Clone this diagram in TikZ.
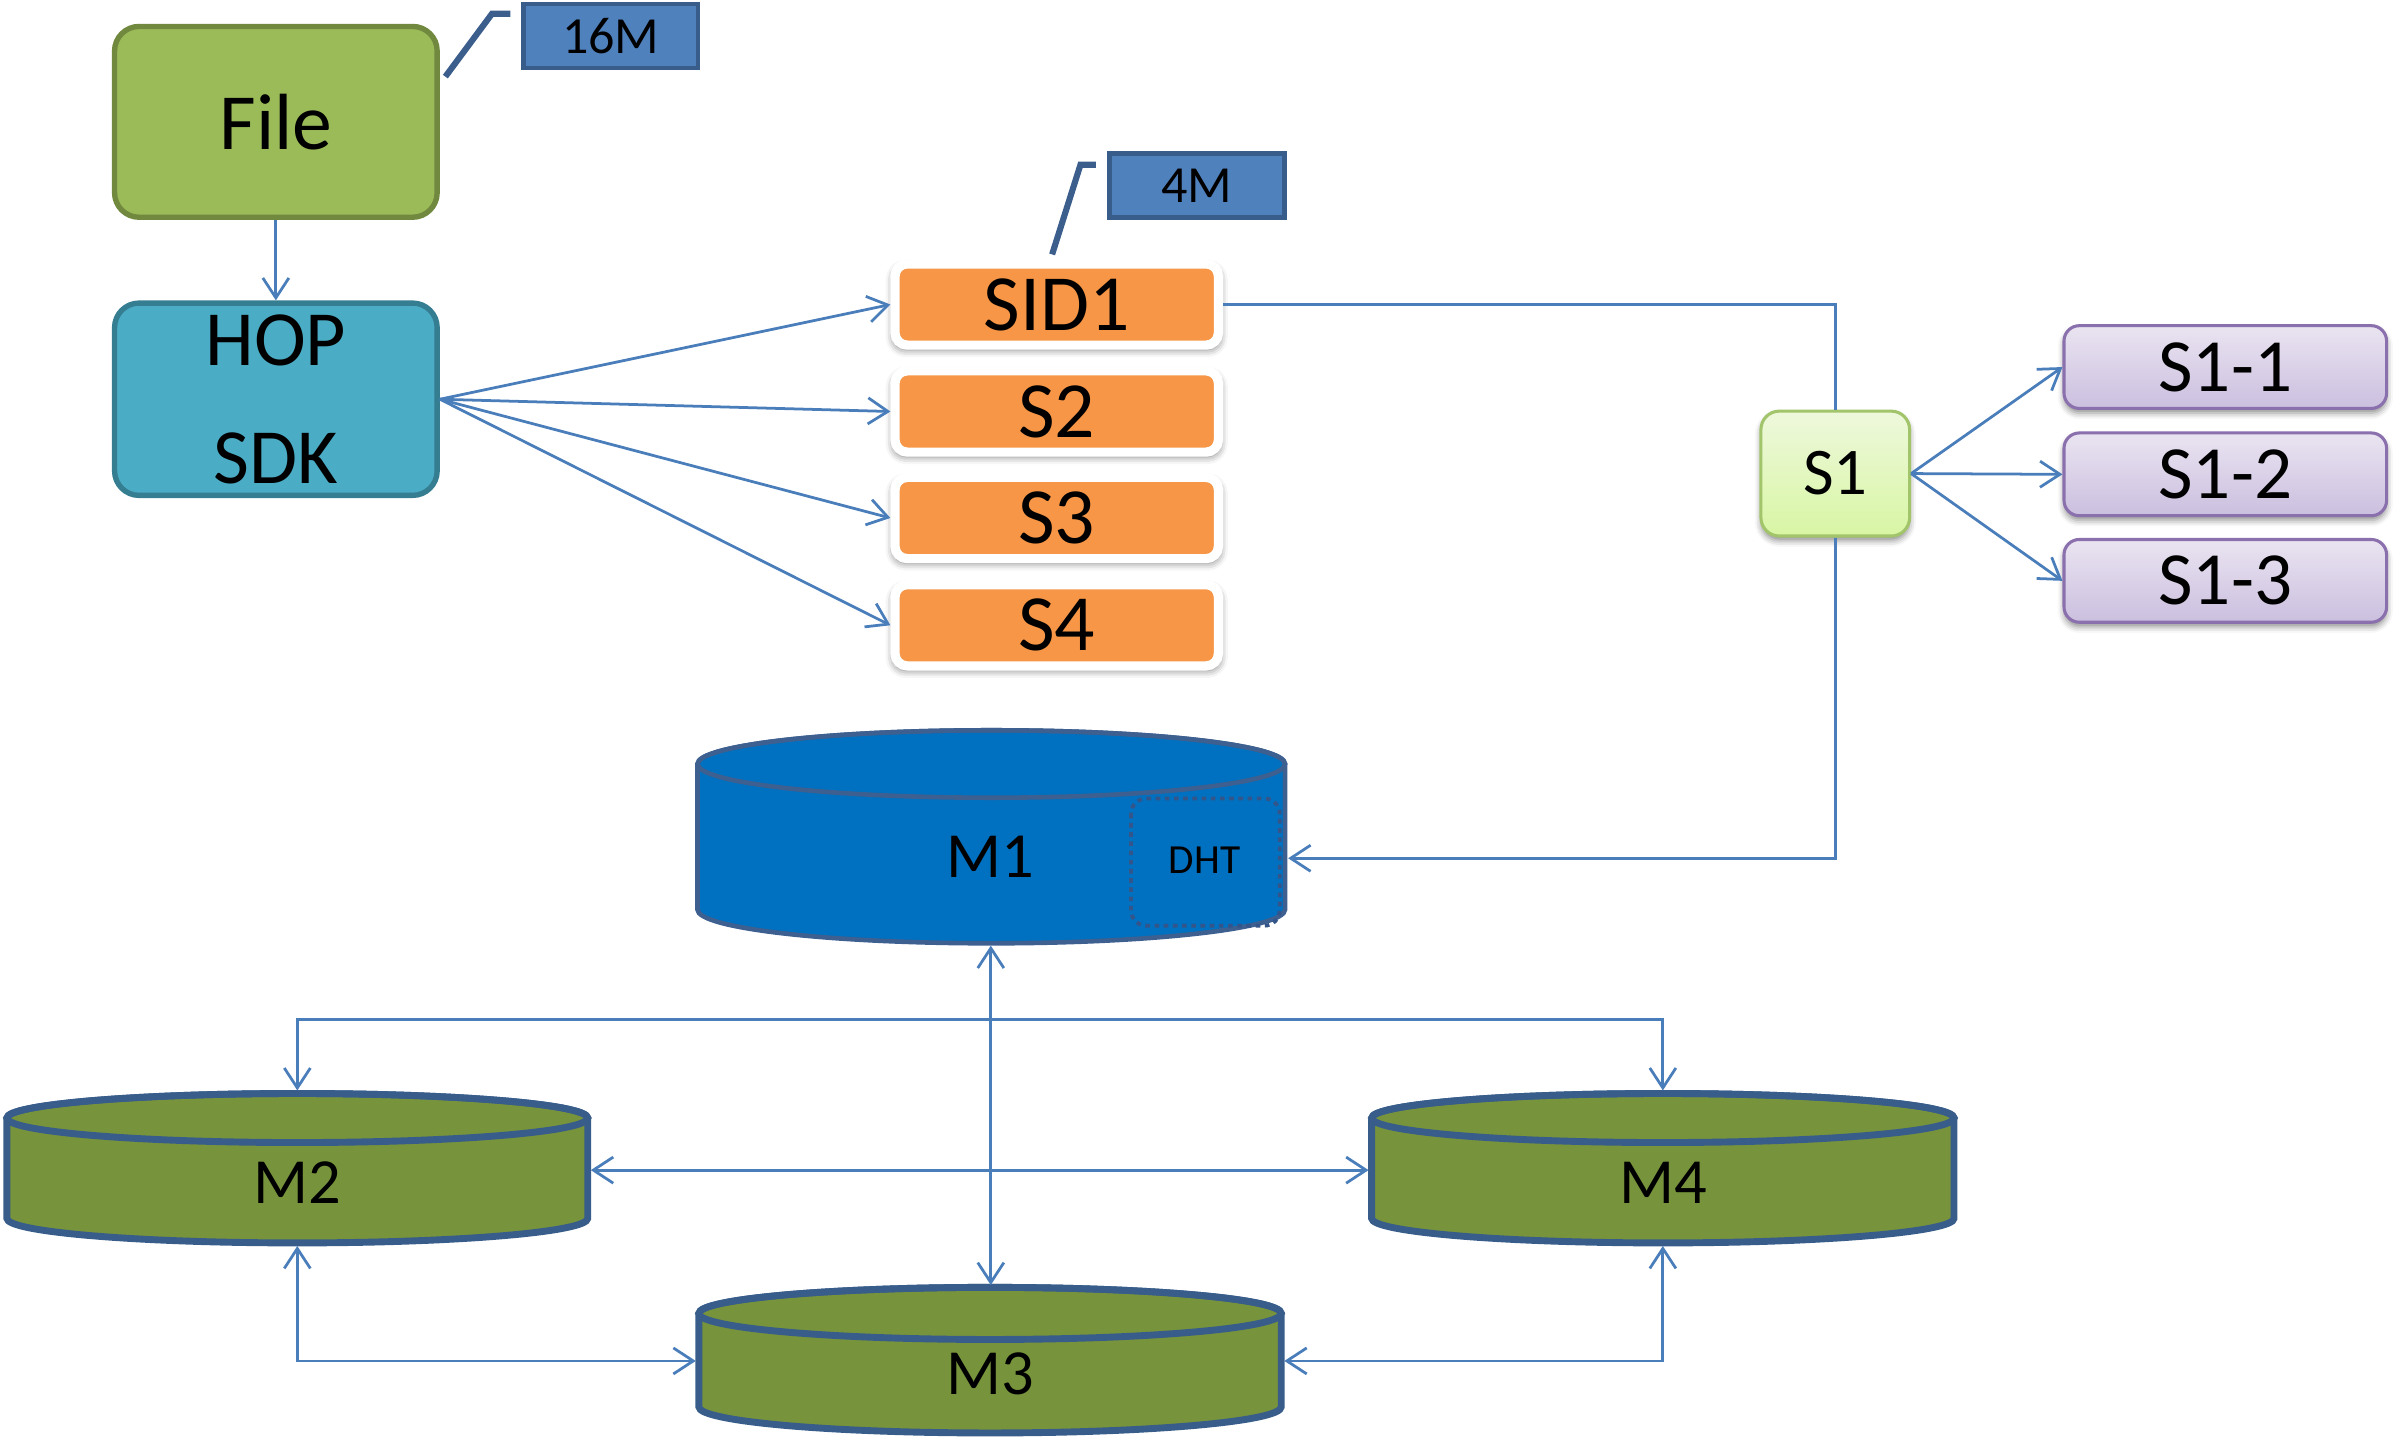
\documentclass[tikz,border=0pt]{standalone}
\usepackage{fontspec}
\setmainfont{Carlito}
\usetikzlibrary{arrows.meta,shadows,shadows.blur}
\definecolor{conncol}{HTML}{4A7EBB}
\definecolor{fileG}{HTML}{9BBB59}
\definecolor{fileB}{HTML}{71893F}
\definecolor{hopF}{HTML}{4BACC6}
\definecolor{hopB}{HTML}{357D91}
\definecolor{tagF}{HTML}{4F81BD}
\definecolor{tagB}{HTML}{385D8A}
\definecolor{orng}{HTML}{F79646}
\definecolor{sTop}{HTML}{EEF8DC}
\definecolor{sBot}{HTML}{D8F6A4}
\definecolor{sBrd}{HTML}{A2C46A}
\definecolor{pTop}{HTML}{EAE4F1}
\definecolor{pBot}{HTML}{CBBFDF}
\definecolor{pBrd}{HTML}{8B70AE}
\definecolor{mBlue}{HTML}{0070C0}
\definecolor{mBlueB}{HTML}{3D6090}
\definecolor{dhtB}{HTML}{34558A}
\definecolor{mGreen}{HTML}{77933C}
\definecolor{mGreenB}{HTML}{385D8A}
\definecolor{callc}{HTML}{3B5E8C}
\newcommand\cylshape[9]{%
  \filldraw[fill=#7, draw=#8, line width=#9] (#2-#5,#3) -- (#2-#5,#4)
    arc[start angle=180,end angle=360,x radius=#5pt,y radius=#6pt]
    -- (#2+#5,#3)
    arc[start angle=0,end angle=180,x radius=#5pt,y radius=#6pt] -- cycle;
  \draw[draw=#8, line width=#9] (#2,#3) ellipse[x radius=#5pt, y radius=#6pt];
}
\begin{document}
\begin{tikzpicture}[x=1pt,y=-1pt,
  tip/.tip={Straight Barb[length=13pt,width=17pt]},
  conn/.style={draw=conncol, line width=1.8pt, -tip},
  conn2/.style={draw=conncol, line width=1.8pt, tip-tip},
  plain/.style={draw=conncol, line width=1.8pt},
  callout/.style={draw=callc, line width=4pt},
  filebox/.style={rounded corners=16pt, fill=fileG, draw=fileB, line width=3.5pt,
    minimum width=210.5pt, minimum height=124.5pt, inner sep=0pt,
    font=\fontsize{52}{60}\selectfont},
  hopbox/.style={rounded corners=16pt, fill=hopF, draw=hopB, line width=3.5pt,
    minimum width=210.5pt, minimum height=125.5pt, inner sep=0pt, align=center,
    font=\fontsize{51}{77}\selectfont},
  tagbox/.style={fill=tagF, draw=tagB, line width=3pt, minimum width=114pt,
    minimum height=42pt, inner sep=0pt, font=\fontsize{34}{40}\selectfont},
  obox/.style={fill=orng, draw=white, line width=6pt, rounded corners=8pt,
    minimum width=211pt, minimum height=53pt, inner sep=0pt,
    font=\fontsize{52}{60}\selectfont,
    blur shadow={shadow xshift=0pt, shadow yshift=-2.5pt, shadow scale=1.01, shadow blur radius=5pt, shadow opacity=55}},
  s1box/.style={top color=sTop, bottom color=sBot, draw=sBrd, line width=2pt,
    rounded corners=12pt, minimum width=97pt, minimum height=81.5pt, inner sep=0pt,
    font=\fontsize{43.5}{50}\selectfont,
    blur shadow={shadow xshift=0pt, shadow yshift=-3pt, shadow blur radius=4pt, shadow opacity=45}},
  pbox/.style={top color=pTop, bottom color=pBot, draw=pBrd, line width=2pt,
    rounded corners=10pt, minimum width=210.5pt, minimum height=54pt, inner sep=0pt,
    font=\fontsize{49}{56}\selectfont,
    blur shadow={shadow xshift=0pt, shadow yshift=-3pt, shadow blur radius=4pt, shadow opacity=45}},
  mtext/.style={inner sep=0pt, font=\fontsize{42}{48}\selectfont},
  dhttext/.style={inner sep=0pt, font=\fontsize{27}{32}\selectfont},
  dhtbox/.style={draw=dhtB, line width=2.5pt, dash pattern=on 3pt off 3pt, rounded corners=10pt}
]
\useasboundingbox (0,0) rectangle (1566,939.6);

% top-left boxes
\node[filebox] (file) at (180,79.5) {File};
\node[hopbox] (hop) at (180,260.5) {HOP\\SDK};
\node[tagbox] (t16) at (398.5,23.5) {16M};
\node[tagbox] (t4) at (781,121) {4M};

% split boxes
\node[obox] (sid1) at (689.5,198.7) {SID1};
\node[obox] (s2) at (689.5,268.5) {S2};
\node[obox] (s3) at (689.5,338) {S3};
\node[obox] (s4) at (689.5,408) {S4};

% S1 and its parts
\node[s1box] (s1) at (1197.5,309) {S1};
\node[pbox] (s11) at (1452,239.5) {S1-1};
\node[pbox] (s12) at (1452,309.5) {S1-2};
\node[pbox] (s13) at (1452,379) {S1-3};

% callouts
\coordinate (c16a) at (290.6,50);
\coordinate (c16b) at (321,9);
\coordinate (c16c) at (333,9);
\draw[callout] (c16a) -- (c16b) -- (c16c);
\coordinate (c4a) at (686.5,166);
\coordinate (c4b) at (705,107.5);
\coordinate (c4c) at (715,107.5);
\draw[callout] (c4a) -- (c4b) -- (c4c);

% cylinders
\cylshape{m1}{646.8}{498.5}{593.5}{191.7}{22}{mBlue}{mBlueB}{3pt}
\cylshape{m2}{194}{729.5}{795}{189.5}{16}{mGreen}{mGreenB}{4.5pt}
\cylshape{m4}{1085}{729.5}{795}{190}{16}{mGreen}{mGreenB}{4.5pt}
\cylshape{m3}{646}{857}{918}{190}{17}{mGreen}{mGreenB}{4.5pt}
\draw[dhtbox] (738,521) rectangle (835,604);

\node[mtext] (m1) at (646,559) {M1};
\node[dhttext] (dht) at (786,561) {DHT};
\node[mtext] (m2) at (194,771.5) {M2};
\node[mtext] (m3) at (646,896.5) {M3};
\node[mtext] (m4) at (1085,771.5) {M4};

\coordinate (m1r) at (840.5,560);
\coordinate (m1b) at (646.5,617);
\coordinate (m3t) at (646.5,838.5);
\coordinate (m3l) at (454,888);
\coordinate (m3r) at (838,888);
\coordinate (m2t) at (194,711.5);
\coordinate (m2b) at (194,813);
\coordinate (m2r) at (385.5,763.5);
\coordinate (m4t) at (1085,711.5);
\coordinate (m4b) at (1085,813);
\coordinate (m4l) at (893,763.5);
\coordinate (jtop) at (646,665);

% connectors
\draw[conn] (file.south) -- (hop.north);
\draw[conn] (hop.east) -- (sid1.west);
\draw[conn] (hop.east) -- (s2.west);
\draw[conn] (hop.east) -- (s3.west);
\draw[conn] (hop.east) -- (s4.west);
\draw[plain] (sid1.east) -| (s1.north);
\draw[conn] (s1.south) |- (m1r);
\draw[conn] (s1.east) -- (s11.west);
\draw[conn] (s1.east) -- (s12.west);
\draw[conn] (s1.east) -- (s13.west);

\draw[conn2] (m1b) -- (m3t);
\draw[conn2] (m2t) -- (m2t |- jtop) -| (m4t);
\draw[conn2] (m2r) -- (m4l);
\draw[conn2] (m2b) |- (m3l);
\draw[conn2] (m4b) |- (m3r);
\end{tikzpicture}
\end{document}
